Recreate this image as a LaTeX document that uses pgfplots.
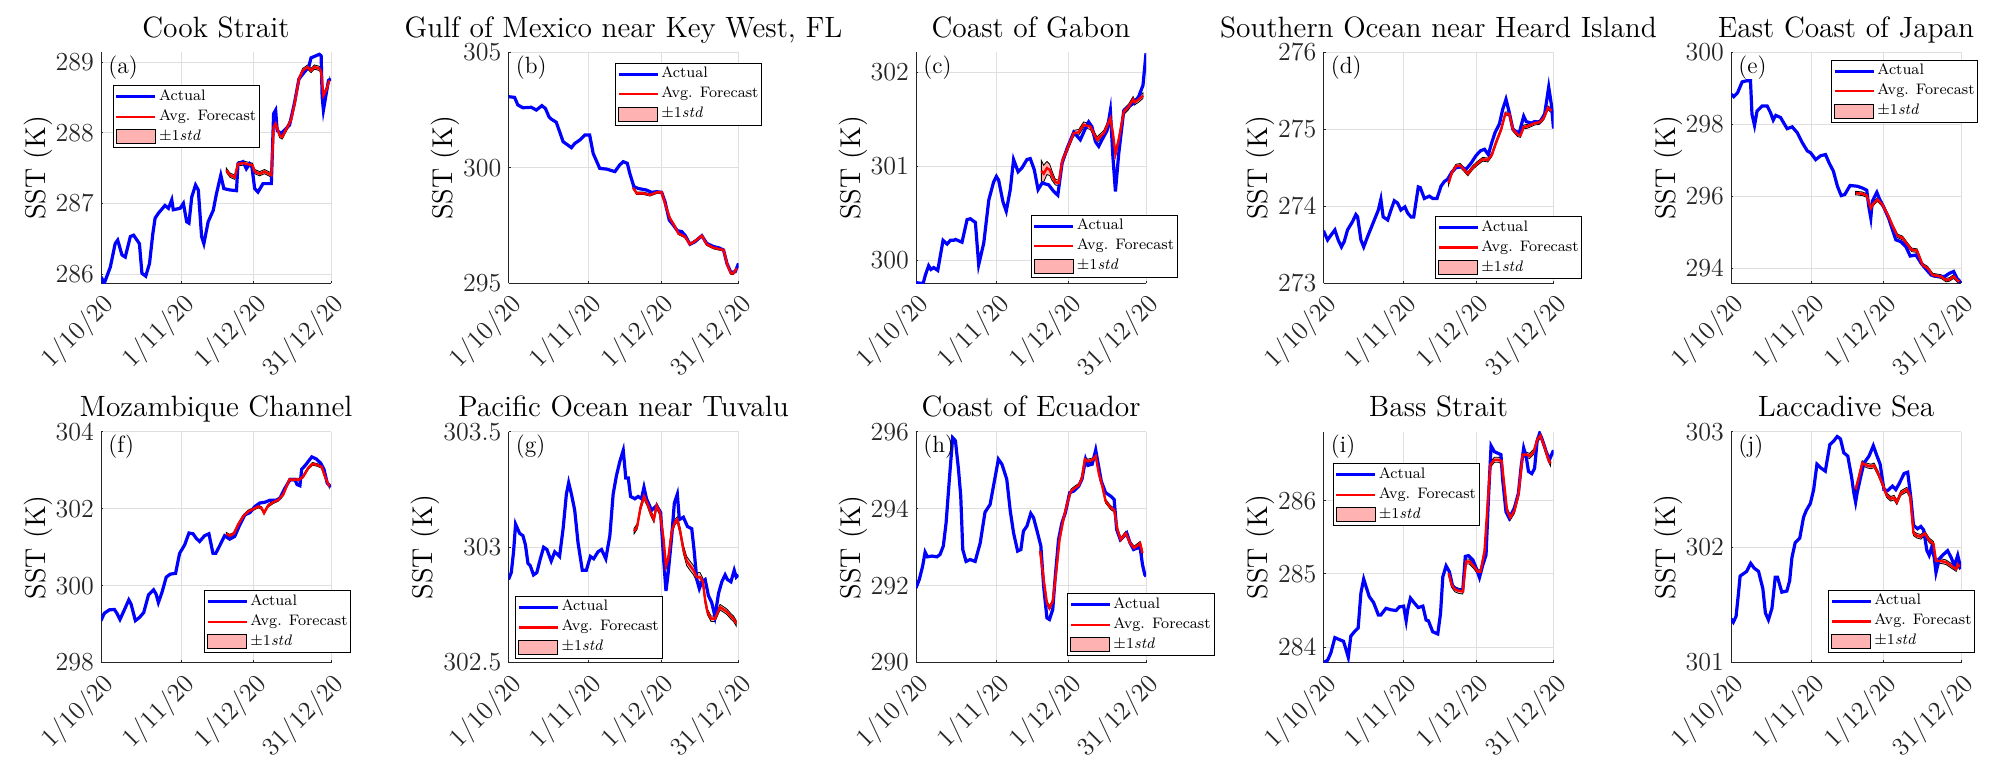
\documentclass[border=0pt]{standalone}
\usepackage{pgfplots}
\pgfplotsset{compat=1.18}
\usepackage{pgfplotstable}
\usepgfplotslibrary{fillbetween}

\definecolor{pinkband}{RGB}{255,178,178}
\tikzset{
  actualstyle/.style={color=blue, line width=1.6pt},
  forecaststyle/.style={color=red, line width=1.2pt},
}

\pgfplotsset{
  sst/.style={
    scale only axis, width=115pt, height=115.3pt,
    anchor=south west,
    xmin=0, xmax=91,
    xtick={0,31.8,60.4,91},
    xticklabels={1/10/20,1/11/20,1/12/20,31/12/20},
    axis lines=left,
    axis line style={-, black!85, line width=0.5pt},
    grid=major,
    major grid style={gray!25, line width=0.5pt},
    tick align=inside, major tick length=1.2pt,
    tick style={black!85, line width=0.5pt},
    tick label style={font=\fontsize{13}{15}\selectfont, text=black!85},
    xticklabel style={rotate=45, anchor=north east, inner sep=3pt},
    scaled y ticks=false,
    /pgf/number format/assume math mode=true,
    every axis title/.style={at={(0.5,1)}, anchor=base, yshift=7.5pt,
      font=\fontsize{14.7}{17}\selectfont},
    ylabel={SST (K)},
    every axis y label/.style={at={(ticklabel cs:0.5,-1.8pt)}, rotate=90,
      anchor=near ticklabel, inner sep=0pt, font=\fontsize{14.3}{17}\selectfont},
    legend style={draw=black, line width=0.5pt, fill=white, anchor=north west,
      font=\fontsize{7.6}{9}\selectfont, inner xsep=0.7pt, inner ysep=0.5pt,
      nodes={inner xsep=1pt, inner ysep=1.5pt, text height=5.2pt, text depth=1.8pt},
      /tikz/every even column/.append style={column sep=0.5pt}},
    legend cell align=left,
    legend image code/.code={\draw[##1] (0pt,0pt) -- (19.5pt,0pt);},
  },
}

\newcommand{\legendset}{%
  \addlegendimage{actualstyle}\addlegendentry{Actual}
  \addlegendimage{forecaststyle}\addlegendentry{Avg. Forecast}
  \addlegendimage{legend image code/.code={\draw[fill=pinkband,draw=black,line width=0.5pt] (0pt,-3.5pt) rectangle (19.5pt,3.5pt);}}
  \addlegendentry{±1\textit{std}}
}
\newcommand{\series}[2]{%
  \addplot[actualstyle, forget plot] table[x=d, y=v] {#1};
  \addplot[draw=none, forget plot, name path=up] table[x=d, y expr=\thisrow{f}+\thisrow{s}] {#2};
  \addplot[draw=none, forget plot, name path=lo] table[x=d, y expr=\thisrow{f}-\thisrow{s}] {#2};
  \addplot[fill=pinkband, draw=black, line width=0.4pt, forget plot] fill between[of=up and lo];
  \addplot[forecaststyle, forget plot] table[x=d, y=f] {#2};
}
\newcommand{\plabel}[1]{%
  \node[anchor=north west, inner sep=0pt, xshift=3.5pt, yshift=-1.5pt,
    font=\fontsize{11.75}{14}\selectfont] at (rel axis cs:0,1) {#1};
}

% ---------- (a) Cook Strait
\pgfplotstableread{
d v
0.0 285.96
1.3 285.87
3.7 286.10
5.6 286.43
6.6 286.48
8.3 286.27
9.6 286.24
11.6 286.53
12.9 286.55
15.2 286.43
16.2 286.01
17.7 285.97
19.2 286.15
20.5 286.57
21.4 286.79
22.7 286.86
25.3 286.97
26.7 286.93
28.0 287.05
28.6 286.91
31.3 286.93
32.6 287.00
33.9 286.74
34.8 286.72
35.9 287.09
37.4 287.26
38.5 287.19
39.8 286.53
40.7 286.43
42.4 286.74
44.4 286.90
45.7 287.14
47.4 287.40
48.6 287.21
51.0 287.19
53.6 287.18
54.2 287.56
56.2 287.59
57.5 287.49
58.8 287.56
59.7 287.52
60.8 287.21
62.1 287.16
64.1 287.28
67.4 287.28
68.3 288.27
69.1 288.32
69.7 288.03
71.3 287.99
74.6 288.11
76.6 288.43
78.3 288.76
80.5 288.86
82.2 288.93
83.1 289.06
86.4 289.11
87.1 289.09
87.5 288.51
88.0 288.32
90.0 288.74
91.0 288.76
}\Aa
\pgfplotstableread{
d f s
49.6 287.47 0.03
51.0 287.40 0.03
52.9 287.37 0.03
54.2 287.56 0.03
56.2 287.57 0.03
59.9 287.54 0.03
60.8 287.45 0.03
62.8 287.42 0.03
64.7 287.45 0.03
67.4 287.40 0.03
68.3 288.08 0.03
69.1 288.13 0.03
70.7 287.96 0.03
71.7 287.94 0.03
75.2 288.18 0.03
76.6 288.41 0.03
78.3 288.76 0.03
79.8 288.88 0.03
81.8 288.93 0.03
83.1 288.88 0.03
84.4 288.93 0.03
86.4 288.91 0.03
87.1 288.86 0.03
88.0 288.53 0.03
89.3 288.62 0.03
90.3 288.74 0.03
}\Fa

% ---------- (b) Gulf of Mexico
\pgfplotstableread{
d v
0.0 303.08
2.4 303.05
3.7 302.72
5.7 302.60
9.0 302.62
11.0 302.50
13.2 302.69
14.6 302.57
16.0 302.21
16.9 302.11
18.9 301.97
20.0 301.63
21.6 301.13
23.5 300.98
24.9 300.87
26.2 301.05
28.2 301.20
30.2 301.42
32.1 301.42
33.5 300.62
36.1 299.97
38.8 299.94
42.1 299.83
44.0 300.12
45.4 300.26
47.0 300.19
48.0 299.75
49.6 299.18
51.3 299.10
54.6 299.03
56.6 298.93
58.6 298.96
60.6 298.93
61.9 298.53
63.6 297.73
65.2 297.51
66.8 297.27
68.5 297.23
69.8 297.08
71.8 296.68
73.8 296.79
76.5 297.05
78.4 296.72
81.1 296.58
83.1 296.53
85.1 296.43
86.4 295.85
88.0 295.46
89.7 295.49
91.0 295.85
}\Ab
\pgfplotstableread{
d f s
49.3 299.13 0.05
50.7 298.89 0.05
53.3 298.89 0.05
56.0 298.82 0.05
58.6 298.93 0.05
60.6 298.93 0.05
62.3 298.31 0.05
63.9 297.80 0.05
65.5 297.51 0.05
67.2 297.15 0.05
69.8 297.01 0.05
71.8 296.68 0.05
73.8 296.82 0.05
76.5 297.05 0.05
78.4 296.68 0.05
81.1 296.53 0.05
85.1 296.43 0.05
86.6 295.78 0.05
88.0 295.42 0.05
89.0 295.42 0.05
90.3 295.64 0.05
}\Fb

% ---------- (c) Coast of Gabon
\pgfplotstableread{
d v
0.0 299.76
2.8 299.75
3.7 299.84
5.0 299.94
5.9 299.90
7.0 299.92
8.6 299.89
10.7 300.21
12.3 300.17
13.6 300.21
14.9 300.21
15.6 300.22
18.2 300.19
20.2 300.43
21.5 300.44
23.5 300.40
24.8 299.95
26.8 300.18
28.8 300.64
30.7 300.83
31.8 300.89
32.7 300.85
34.4 300.62
35.7 300.52
37.3 300.75
38.6 301.07
40.4 300.94
41.9 300.98
43.9 301.07
45.2 301.08
46.8 300.96
48.3 300.75
49.9 300.82
52.5 300.80
54.5 300.73
56.1 300.69
57.8 301.03
59.8 301.19
62.4 301.36
65.0 301.28
67.0 301.40
68.3 301.47
69.6 301.42
71.0 301.26
72.3 301.21
73.6 301.28
75.6 301.38
76.9 301.59
77.9 301.10
78.9 300.73
80.2 301.13
82.2 301.59
84.1 301.63
86.1 301.67
88.1 301.74
89.8 301.86
91.0 302.20
}\Ac
\pgfplotstableread{
d f s
49.6 300.95 0.11
50.5 300.92 0.09
51.8 300.98 0.07
52.9 300.96 0.06
53.8 300.90 0.05
55.1 300.83 0.03
56.5 300.82 0.03
57.8 301.05 0.03
59.8 301.18 0.03
62.4 301.35 0.03
64.4 301.36 0.03
66.3 301.44 0.03
69.0 301.42 0.03
71.6 301.28 0.03
74.3 301.35 0.03
76.9 301.51 0.03
77.9 301.35 0.03
78.9 301.13 0.03
80.2 301.28 0.03
82.2 301.58 0.03
84.1 301.63 0.03
85.9 301.71 0.03
86.4 301.68 0.03
88.1 301.71 0.03
89.8 301.75 0.03
}\Fc

% ---------- (d) Southern Ocean near Heard Island
\pgfplotstableread{
d v
0.0 273.68
1.6 273.56
2.9 273.62
4.5 273.69
5.8 273.56
7.1 273.47
8.2 273.54
9.5 273.69
11.5 273.80
12.8 273.89
13.5 273.86
14.8 273.56
15.9 273.47
17.4 273.60
20.1 273.82
21.7 273.95
22.7 274.09
23.6 273.86
25.4 273.82
26.7 273.95
28.0 274.07
29.3 274.04
30.6 273.95
32.2 273.99
33.3 273.91
34.6 273.86
35.7 273.86
37.5 274.25
38.3 274.24
39.9 274.10
41.9 274.13
43.2 274.10
44.9 274.10
46.5 274.26
47.8 274.32
49.1 274.35
50.7 274.44
52.4 274.50
54.4 274.51
56.4 274.48
58.4 274.56
60.4 274.66
62.1 274.72
63.7 274.74
65.2 274.67
66.6 274.83
67.9 274.96
69.6 275.07
70.9 275.26
72.2 275.39
73.5 275.22
74.9 275.00
76.2 274.97
77.5 274.96
79.2 275.17
80.2 275.10
82.2 275.08
83.5 275.10
85.5 275.09
87.5 275.20
89.1 275.55
90.2 275.31
91.0 275.01
}\Ad
\pgfplotstableread{
d f s
49.5 274.30 0.025
50.7 274.43 0.025
52.4 274.52 0.025
54.1 274.53 0.025
55.5 274.48 0.025
57.1 274.42 0.025
59.0 274.50 0.025
61.0 274.56 0.025
63.0 274.61 0.025
65.0 274.60 0.025
66.6 274.67 0.025
68.3 274.83 0.025
70.3 275.00 0.025
71.9 275.20 0.025
73.5 275.20 0.025
74.9 275.00 0.025
76.8 274.93 0.025
77.9 274.92 0.025
79.2 275.03 0.025
80.8 275.04 0.025
83.5 275.08 0.025
85.5 275.09 0.025
87.2 275.15 0.025
88.8 275.28 0.025
90.2 275.24 0.025
}\Fd

% ---------- (e) East Coast of Japan
\pgfplotstableread{
d v
0.0 298.84
1.1 298.77
2.6 298.88
4.4 299.18
6.1 299.21
7.7 299.21
8.3 298.28
9.3 297.97
10.3 298.37
12.3 298.51
14.3 298.51
15.6 298.33
16.7 298.12
17.7 298.25
19.6 298.19
22.2 297.88
24.2 297.93
26.2 297.77
28.2 297.49
30.2 297.26
31.5 297.21
33.5 297.02
35.5 297.13
37.4 297.16
38.8 296.93
40.5 296.70
42.1 296.28
43.6 296.02
45.0 296.05
47.1 296.30
50.0 296.28
52.0 296.23
53.7 296.17
54.5 295.72
55.3 295.40
55.9 295.86
57.7 296.11
58.6 295.95
60.6 295.67
62.3 295.40
63.9 295.07
65.2 294.79
67.2 294.74
69.2 294.60
70.9 294.34
73.2 294.37
75.2 294.14
77.2 293.97
79.2 293.81
81.8 293.77
84.5 293.77
86.4 293.86
88.1 293.91
89.4 293.72
91.0 293.60
}\Ae
\pgfplotstableread{
d f s
49.3 296.09 0.05
52.0 296.07 0.05
53.7 296.02 0.05
55.3 295.67 0.05
56.3 295.79 0.05
57.9 295.91 0.05
59.9 295.77 0.05
62.3 295.44 0.05
64.3 295.12 0.05
65.9 294.90 0.05
67.9 294.84 0.05
69.9 294.65 0.05
71.5 294.51 0.05
73.6 294.49 0.05
75.8 294.09 0.05
77.8 294.00 0.05
79.8 293.81 0.05
83.1 293.77 0.05
85.1 293.67 0.05
86.4 293.69 0.05
88.1 293.77 0.05
89.4 293.67 0.05
90.3 293.63 0.05
}\Fe

% ---------- (f) Mozambique Channel
\pgfplotstableread{
d v
0.0 299.09
1.3 299.28
3.3 299.37
5.3 299.38
6.3 299.28
7.5 299.12
8.9 299.32
11.0 299.63
11.9 299.52
13.6 299.09
15.2 299.17
16.9 299.30
18.8 299.76
20.8 299.89
21.8 299.78
22.7 299.56
24.1 299.82
25.8 300.22
27.4 300.30
29.5 300.32
31.1 300.84
33.1 301.06
34.8 301.37
36.4 301.35
37.7 301.23
39.0 301.15
41.0 301.30
42.7 301.35
44.3 300.84
45.4 300.84
46.9 301.03
48.9 301.30
50.9 301.21
52.9 301.28
54.9 301.58
56.9 301.84
58.9 301.90
60.9 302.06
62.8 302.15
64.8 302.17
66.8 302.22
69.2 302.22
70.8 302.28
72.8 302.54
74.8 302.76
76.7 302.76
77.6 302.63
78.7 302.60
79.4 303.03
80.7 303.12
83.4 303.35
85.1 303.30
86.9 303.19
88.2 303.03
89.5 302.67
91.0 302.57
}\Af
\pgfplotstableread{
d f s
49.6 301.35 0.035
50.9 301.30 0.035
52.5 301.35 0.035
54.2 301.58 0.035
56.2 301.80 0.035
58.2 301.93 0.035
60.2 301.99 0.035
62.2 302.06 0.035
63.5 302.02 0.035
64.5 301.89 0.035
66.1 302.08 0.035
68.1 302.17 0.035
70.1 302.23 0.035
72.1 302.37 0.035
74.5 302.76 0.035
76.7 302.76 0.035
78.5 302.76 0.035
80.0 302.84 0.035
82.0 303.06 0.035
83.7 303.17 0.035
85.6 303.14 0.035
87.3 303.09 0.035
88.6 302.84 0.035
90.3 302.58 0.035
}\Ff

% ---------- (g) Pacific Ocean near Tuvalu
\pgfplotstableread{
d v
0.0 302.86
1.1 302.89
2.0 302.98
2.8 303.10
4.4 303.06
5.7 303.05
6.7 303.01
7.7 302.93
8.6 302.92
9.9 302.88
11.2 302.89
12.6 302.95
13.9 303.00
15.2 302.99
16.9 302.94
18.3 302.98
20.2 302.96
21.6 303.08
22.9 303.23
23.8 303.28
24.9 303.23
26.2 303.16
27.5 303.02
29.2 302.90
30.8 302.90
32.4 302.96
33.7 302.95
35.4 302.98
36.8 302.99
38.5 302.95
40.1 303.05
41.4 303.23
42.7 303.31
44.0 303.37
45.4 303.42
46.4 303.30
47.4 303.30
48.3 303.22
50.0 303.21
51.3 303.22
52.6 303.21
53.6 303.26
54.6 303.21
56.6 303.16
58.6 303.18
60.2 303.15
61.3 302.96
62.3 302.81
63.2 302.89
64.6 303.05
65.6 303.19
66.8 303.23
67.6 303.12
69.2 303.13
70.8 303.09
72.5 303.08
73.4 302.99
74.5 302.86
75.5 302.82
76.5 302.85
77.8 302.86
79.1 302.79
80.4 302.76
81.7 302.70
83.1 302.80
84.4 302.85
85.7 302.88
86.6 302.86
88.0 302.85
89.3 302.90
90.1 302.87
91.0 302.88
}\Ag
\pgfplotstableread{
d f s
49.7 303.07 0.012
50.9 303.09 0.012
52.2 303.17 0.012
53.6 303.22 0.012
54.9 303.19 0.012
56.2 303.15 0.012
57.5 303.12 0.012
58.6 303.18 0.012
59.9 303.15 0.012
61.3 303.04 0.012
62.3 302.92 0.015
63.2 302.95 0.015
64.6 303.07 0.012
65.9 303.11 0.012
66.8 303.12 0.012
67.9 303.07 0.015
69.2 302.99 0.018
70.5 302.94 0.02
71.8 302.92 0.02
73.2 302.90 0.02
74.5 302.87 0.02
75.8 302.87 0.02
76.9 302.85 0.015
77.8 302.77 0.015
78.7 302.72 0.012
80.1 302.69 0.012
81.7 302.69 0.012
83.7 302.74 0.012
85.1 302.73 0.012
86.4 302.72 0.012
88.0 302.70 0.012
89.0 302.69 0.012
90.1 302.67 0.012
}\Fg

% ---------- (h) Coast of Ecuador
\pgfplotstableread{
d v
0.0 291.94
1.3 292.16
2.6 292.50
3.6 292.87
4.5 292.75
6.3 292.77
8.3 292.75
9.5 292.81
10.8 293.03
11.9 293.63
13.2 294.77
14.5 295.85
15.6 295.77
16.8 295.03
17.7 294.33
18.5 292.94
19.8 292.63
21.4 292.68
23.4 292.63
25.4 293.11
27.3 293.91
29.3 294.11
30.9 294.68
32.6 295.29
34.0 295.16
35.9 294.77
37.3 293.94
38.6 293.37
40.2 292.90
41.5 292.94
42.5 293.42
43.9 293.55
45.4 293.88
46.5 293.77
48.1 293.37
49.4 293.03
50.5 291.98
51.8 291.16
52.8 291.12
54.1 291.38
55.1 292.24
56.4 293.20
57.7 293.63
59.1 293.90
60.8 294.42
62.4 294.46
64.4 294.59
65.7 294.78
67.1 295.29
68.0 295.13
69.7 295.16
71.1 295.53
72.0 295.20
73.3 294.72
75.0 294.42
77.0 294.33
78.4 294.24
79.4 293.46
80.8 293.20
82.3 293.29
83.4 293.37
84.7 293.11
86.1 292.94
87.6 292.98
88.7 292.98
89.6 292.55
90.5 292.29
91.0 292.24
}\Ah
\pgfplotstableread{
d f s
49.1 292.90 0.05
50.5 292.16 0.05
51.8 291.55 0.05
52.8 291.42 0.05
54.1 291.59 0.05
55.4 292.33 0.05
56.8 293.20 0.05
58.3 293.72 0.05
59.9 294.16 0.05
61.3 294.46 0.05
63.0 294.55 0.05
64.4 294.61 0.05
65.7 294.81 0.05
66.8 295.29 0.05
68.0 295.24 0.05
69.7 295.27 0.05
71.1 295.37 0.05
72.4 294.90 0.05
73.7 294.59 0.05
75.0 294.20 0.05
77.0 294.03 0.05
78.4 293.97 0.05
79.7 293.46 0.05
81.0 293.20 0.05
83.0 293.36 0.05
84.7 293.11 0.05
86.3 292.98 0.05
88.7 293.10 0.05
89.6 292.85 0.05
}\Fh

% ---------- (i) Bass Strait
\pgfplotstableread{
d v
0.0 283.79
1.6 283.82
2.9 283.92
4.5 284.13
5.8 284.11
7.9 284.08
8.8 283.98
9.8 283.86
10.8 284.15
12.2 284.21
13.7 284.26
14.8 284.74
15.9 284.93
16.8 284.83
18.1 284.69
19.8 284.61
21.7 284.44
22.7 284.44
24.7 284.53
26.7 284.51
28.7 284.50
30.0 284.55
31.7 284.56
32.7 284.36
33.3 284.51
34.4 284.67
36.0 284.60
37.5 284.54
39.3 284.56
40.6 284.37
41.5 284.36
43.2 284.21
45.2 284.18
46.3 284.46
47.2 284.96
48.5 285.11
49.8 285.03
51.1 284.83
53.1 284.78
55.1 284.78
56.1 285.24
57.4 285.25
59.1 285.19
60.4 285.08
61.7 284.95
63.0 285.12
64.3 285.26
65.3 286.06
66.3 286.75
67.6 286.67
68.9 286.65
70.2 286.63
70.9 286.28
72.2 285.85
73.5 285.76
75.5 285.90
77.1 286.10
78.2 286.47
79.2 286.72
80.2 286.60
81.1 286.40
82.4 286.37
83.5 286.44
84.5 286.81
85.5 286.92
86.4 286.85
88.1 286.67
89.4 286.56
91.0 286.69
}\Ai
\pgfplotstableread{
d f s
49.5 285.01 0.035
50.7 284.85 0.035
52.0 284.79 0.035
53.4 284.77 0.035
55.1 284.76 0.035
56.4 285.17 0.035
57.7 285.17 0.035
59.4 285.11 0.035
61.0 285.03 0.035
62.1 285.03 0.035
63.7 285.31 0.035
64.7 285.83 0.035
66.0 286.49 0.035
67.6 286.56 0.035
69.2 286.56 0.035
70.5 286.54 0.035
71.6 286.19 0.035
72.6 285.87 0.035
73.9 285.77 0.035
75.5 285.86 0.035
77.1 286.08 0.035
78.8 286.63 0.035
80.2 286.63 0.035
81.5 286.61 0.035
83.2 286.67 0.035
84.5 286.83 0.035
85.8 286.89 0.035
87.4 286.74 0.035
88.8 286.58 0.035
89.8 286.51 0.035
}\Fi

% ---------- (j) Laccadive Sea
\pgfplotstableread{
d v
0.0 301.38
0.9 301.35
2.0 301.40
2.9 301.59
3.6 301.75
4.9 301.77
6.2 301.79
7.8 301.86
9.1 301.82
10.9 301.79
12.6 301.64
13.6 301.43
14.8 301.37
16.2 301.47
17.5 301.74
18.4 301.74
20.1 301.61
22.1 301.62
23.2 301.71
24.1 301.91
25.4 302.04
27.2 302.08
28.7 302.26
29.8 302.32
31.4 302.38
32.7 302.50
34.0 302.72
35.4 302.69
37.3 302.66
39.1 302.89
40.6 302.92
42.0 302.96
43.3 302.94
44.6 302.82
46.2 302.79
47.7 302.61
48.6 302.47
49.3 302.39
49.9 302.47
51.3 302.61
52.6 302.73
54.6 302.79
56.3 302.88
57.6 302.80
59.0 302.72
60.5 302.50
61.9 302.49
63.9 302.53
65.2 302.50
66.5 302.55
68.5 302.64
69.9 302.65
71.1 302.44
72.2 302.19
73.8 302.16
75.1 302.18
76.2 302.15
77.5 301.97
78.4 301.93
79.4 302.00
80.4 301.91
81.1 301.78
82.4 301.90
84.2 301.94
85.7 301.97
87.1 301.91
88.4 301.84
89.7 301.93
91.0 301.81
}\Aj
\pgfplotstableread{
d f s
49.3 302.50 0.02
50.6 302.61 0.02
51.9 302.73 0.02
53.6 302.71 0.02
55.3 302.70 0.02
56.6 302.71 0.02
58.2 302.64 0.02
59.9 302.55 0.02
61.6 302.45 0.02
63.2 302.42 0.02
64.5 302.43 0.02
65.6 302.39 0.02
67.2 302.47 0.02
69.6 302.50 0.02
70.9 302.44 0.02
72.2 302.12 0.02
73.5 302.10 0.02
75.1 302.09 0.02
76.7 302.12 0.02
78.4 302.06 0.02
80.1 302.03 0.02
81.1 301.88 0.02
83.0 301.88 0.02
85.0 301.87 0.02
87.1 301.84 0.02
89.1 301.81 0.02
89.7 301.85 0.02
90.4 301.83 0.02
}\Fj

\begin{document}
\begin{tikzpicture}

% top row
\begin{axis}[sst, at={(50.5pt,-141.5pt)}, title={Cook Strait},
  ymin=285.873, ymax=289.137, ytick={286,287,288,289},
  legend style={at={(0.052,0.857)}}]
\legendset
\series{\Aa}{\Fa}
\plabel{(a)}
\end{axis}

\begin{axis}[sst, at={(254.25pt,-141.5pt)}, title={Gulf of Mexico near Key West, FL},
  ymin=295, ymax=305, ytick={295,300,305},
  legend style={at={(0.464,0.955)}}]
\legendset
\series{\Ab}{\Fb}
\plabel{(b)}
\end{axis}

\begin{axis}[sst, at={(458pt,-141.5pt)}, title={Coast of Gabon},
  ymin=299.756, ymax=302.21, ytick={300,301,302},
  legend style={at={(0.499,0.296)}}]
\legendset
\series{\Ac}{\Fc}
\plabel{(c)}
\end{axis}

\begin{axis}[sst, at={(661.75pt,-141.5pt)}, title={Southern Ocean near Heard Island},
  ymin=273, ymax=276, ytick={273,274,275,276},
  legend style={at={(0.486,0.290)}}]
\legendset
\series{\Ad}{\Fd}
\plabel{(d)}
\end{axis}

\begin{axis}[sst, at={(865.5pt,-141.5pt)}, title={East Coast of Japan},
  ymin=293.59, ymax=300, ytick={294,296,298,300},
  legend style={at={(0.436,0.968)}}]
\legendset
\series{\Ae}{\Fe}
\plabel{(e)}
\end{axis}

% bottom row
\begin{axis}[sst, at={(50.5pt,-331.25pt)}, title={Mozambique Channel},
  ymin=298, ymax=304, ytick={298,300,302,304},
  legend style={at={(0.449,0.313)}}]
\legendset
\series{\Af}{\Ff}
\plabel{(f)}
\end{axis}

\begin{axis}[sst, at={(254.25pt,-331.25pt)}, title={Pacific Ocean near Tuvalu},
  ymin=302.5, ymax=303.5, ytick={302.5,303,303.5},
  legend style={at={(0.030,0.289)}}]
\legendset
\series{\Ag}{\Fg}
\plabel{(g)}
\end{axis}

\begin{axis}[sst, at={(458pt,-331.25pt)}, title={Coast of Ecuador},
  ymin=290, ymax=296, ytick={290,292,294,296},
  legend style={at={(0.658,0.300)}}]
\legendset
\series{\Ah}{\Fh}
\plabel{(h)}
\end{axis}

\begin{axis}[sst, at={(661.75pt,-331.25pt)}, title={Bass Strait},
  ymin=283.79, ymax=286.94, ytick={284,285,286},
  legend style={at={(0.040,0.864)}}]
\legendset
\series{\Ai}{\Fi}
\plabel{(i)}
\end{axis}

\begin{axis}[sst, at={(865.5pt,-331.25pt)}, title={Laccadive Sea},
  ymin=301, ymax=303, ytick={301,302,303},
  legend style={at={(0.423,0.315)}}]
\legendset
\series{\Aj}{\Fj}
\plabel{(j)}
\end{axis}

\pgfresetboundingbox
\useasboundingbox (0,0) rectangle (998.5pt,-388.5pt);
\end{tikzpicture}
\end{document}
